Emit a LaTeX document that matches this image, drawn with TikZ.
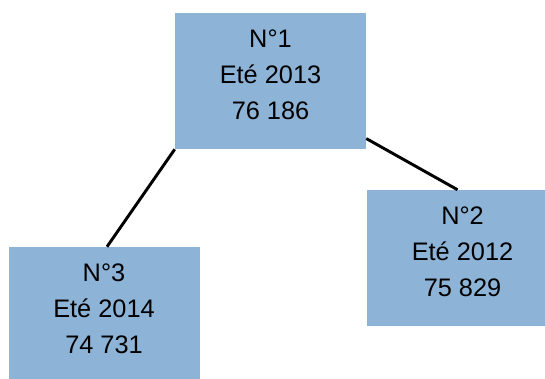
\documentclass[tikz,border=0pt]{standalone}
\usepackage{fontspec}
\setmainfont{Liberation Sans}
\usetikzlibrary{calc}
\definecolor{boxblue}{RGB}{141,179,215}

\begin{document}
\begin{tikzpicture}[
  x=0.75pt, y=-0.75pt,
  font=\fontsize{19}{27}\selectfont,
  bx/.style={fill=boxblue, align=center, inner sep=0pt,
             minimum width=143.25pt, minimum height=102pt, text depth=10pt},
  ln/.style={line width=2.2pt},
]
\clip (0,0) rectangle (545,378);
\node[bx] (n1) at (270.5,81) {N°1\\Eté 2013\\76 186};
\node[bx] (n2) at (462.5,258) {N°2\\Eté 2012\\75 829};
\node[bx] (n3) at (104,315) {N°3\\Eté 2014\\74 731};

\draw[ln] (n1.south west) -- ($(n3.north)+(3,0)$);
\draw[ln] (n1.-31) -- ($(n2.north)+(-5,0)$);
\end{tikzpicture}
\end{document}
